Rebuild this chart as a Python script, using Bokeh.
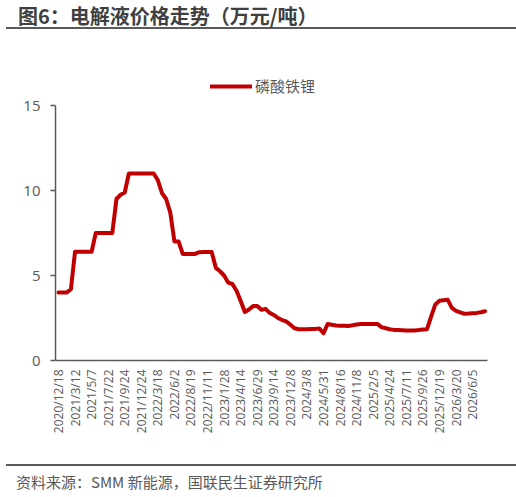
import math
from bokeh.plotting import figure
from bokeh.models import (ColumnDataSource, FixedTicker, Legend, LegendItem, Range1d, Div)
from bokeh.layouts import column
from bokeh.embed import file_html
from bokeh.resources import INLINE

# ---- data ----
title_text = "图6：电解液价格走势（万元/吨）"
source_text = "资料来源：SMM 新能源，国联民生证券研究所"
tick_labels = ["2020/12/18", "2021/3/12", "2021/5/7", "2021/7/22", "2021/9/24",
               "2021/12/24", "2022/3/18", "2022/6/2", "2022/8/19", "2022/11/11",
               "2023/1/28", "2023/4/14", "2023/6/29", "2023/9/14", "2023/12/8",
               "2024/3/8", "2024/5/31", "2024/8/16", "2024/11/8", "2025/2/5",
               "2025/4/24", "2025/7/11", "2025/9/26", "2025/12/19", "2026/3/20",
               "2026/6/5"]
points_per_label = 4
lfp_price = [4.0, 4.0, 4.0, 4.2, 6.4, 6.4, 6.4, 6.4, 6.4, 7.5,
             7.5, 7.5, 7.5, 7.5, 9.5, 9.75, 9.88, 11.0, 11.0, 11.0,
             11.0, 11.0, 11.0, 11.0, 10.6, 9.85, 9.5, 8.7, 7.0, 7.0,
             6.27, 6.27, 6.27, 6.27, 6.37, 6.38, 6.38, 6.38, 5.45, 5.25,
             5.0, 4.58, 4.5, 4.1, 3.5, 2.85, 3.0, 3.2, 3.2, 2.98,
             3.04, 2.8, 2.68, 2.5, 2.38, 2.3, 2.1, 1.9, 1.84, 1.84,
             1.84, 1.85, 1.86, 1.88, 1.6, 2.15, 2.1, 2.06, 2.05, 2.04,
             2.03, 2.07, 2.12, 2.15, 2.15, 2.15, 2.15, 2.15, 1.96, 1.9,
             1.84, 1.8, 1.79, 1.78, 1.77, 1.76, 1.77, 1.79, 1.82, 1.84,
             2.6, 3.3, 3.52, 3.55, 3.57, 3.1, 2.92, 2.83, 2.75, 2.76,
             2.78, 2.8, 2.84, 2.9]
series_name = "磷酸铁锂"
y_ticks = [0, 5, 10, 15]

idx = list(range(len(lfp_price)))
src = ColumnDataSource(dict(x=idx, y=lfp_price))

# ---- title block ----
title_div = Div(text=title_text, width=504, height=27, margin=(0, 0, 0, 6),
                styles={"border-bottom": "2px solid #595959",
                        "font-family": "'Noto Sans CJK SC', sans-serif",
                        "font-size": "20px", "font-weight": "bold",
                        "color": "#404040", "padding-left": "12px",
                        "line-height": "31px", "box-sizing": "content-box",
                        "white-space": "nowrap"})

# ---- figure ----
W, H = 500, 435
FRAME_H = 331            # frame from figure top to the x axis
UNIT_PX = 17.0           # pixels per 1 unit of price
p = figure(width=W, height=H, output_backend="svg", toolbar_location=None,
           x_range=Range1d(-0.72, 103.6), y_range=Range1d(0, FRAME_H / UNIT_PX),
           min_border_left=55, min_border_right=W - 487, min_border_top=0,
           min_border_bottom=H - FRAME_H)
p.outline_line_color = None
p.grid.grid_line_color = None
p.background_fill_color = "white"
p.border_fill_color = "white"

r = p.line("x", "y", source=src, line_color="#C00000", line_width=4,
           line_join="round", line_cap="round")

# x axis
xa = p.xaxis[0]
tick_pos = [i * points_per_label for i in range(len(tick_labels))]
xa.ticker = FixedTicker(ticks=tick_pos)
xa.major_label_overrides = {t: lab for t, lab in zip(tick_pos, tick_labels)}
xa.major_label_orientation = math.pi / 2
xa.major_tick_out = 0
xa.major_tick_in = 0
xa.minor_tick_out = 0
xa.minor_tick_in = 0
xa.axis_line_color = "#595959"
xa.axis_line_width = 1.5
xa.major_label_text_color = "#595959"
xa.major_label_text_font = "Open Sans"
xa.major_label_text_font_size = "12px"
xa.major_label_standoff = 9

# y axis (line limited to 0..15)
ya = p.yaxis[0]
ya.ticker = FixedTicker(ticks=y_ticks)
ya.bounds = (y_ticks[0], y_ticks[-1])
ya.major_tick_out = 5
ya.major_tick_in = 0
ya.minor_tick_out = 0
ya.minor_tick_in = 0
ya.axis_line_color = "#595959"
ya.axis_line_width = 1.5
ya.major_tick_line_color = "#595959"
ya.major_tick_line_width = 1.5
ya.major_label_text_color = "#595959"
ya.major_label_text_font = "Open Sans"
ya.major_label_text_font_size = "15px"
ya.major_label_standoff = 10

# legend inside the (extended) frame, above the 15 level
legend = Legend(items=[LegendItem(label=series_name, renderers=[r])],
                location=(155, 264), orientation="horizontal",
                border_line_color=None, background_fill_alpha=0,
                padding=0, margin=0, glyph_width=42, glyph_height=20,
                label_height=20, label_standoff=3,
                label_text_font="Noto Sans CJK SC", label_text_font_size="15px",
                label_text_color="#595959")
p.add_layout(legend)

# ---- source block ----
source_div = Div(text=source_text, width=504, height=28, margin=(0, 0, 0, 6),
                 styles={"border-top": "2px solid #595959",
                         "font-family": "'Noto Sans CJK SC', sans-serif",
                         "font-size": "15px", "color": "#595959",
                         "padding-left": "10px", "line-height": "32px",
                         "box-sizing": "content-box", "white-space": "nowrap"})

layout = column(title_div, p, source_div, spacing=0)
open("out.html", "w").write(file_html(layout, INLINE))
